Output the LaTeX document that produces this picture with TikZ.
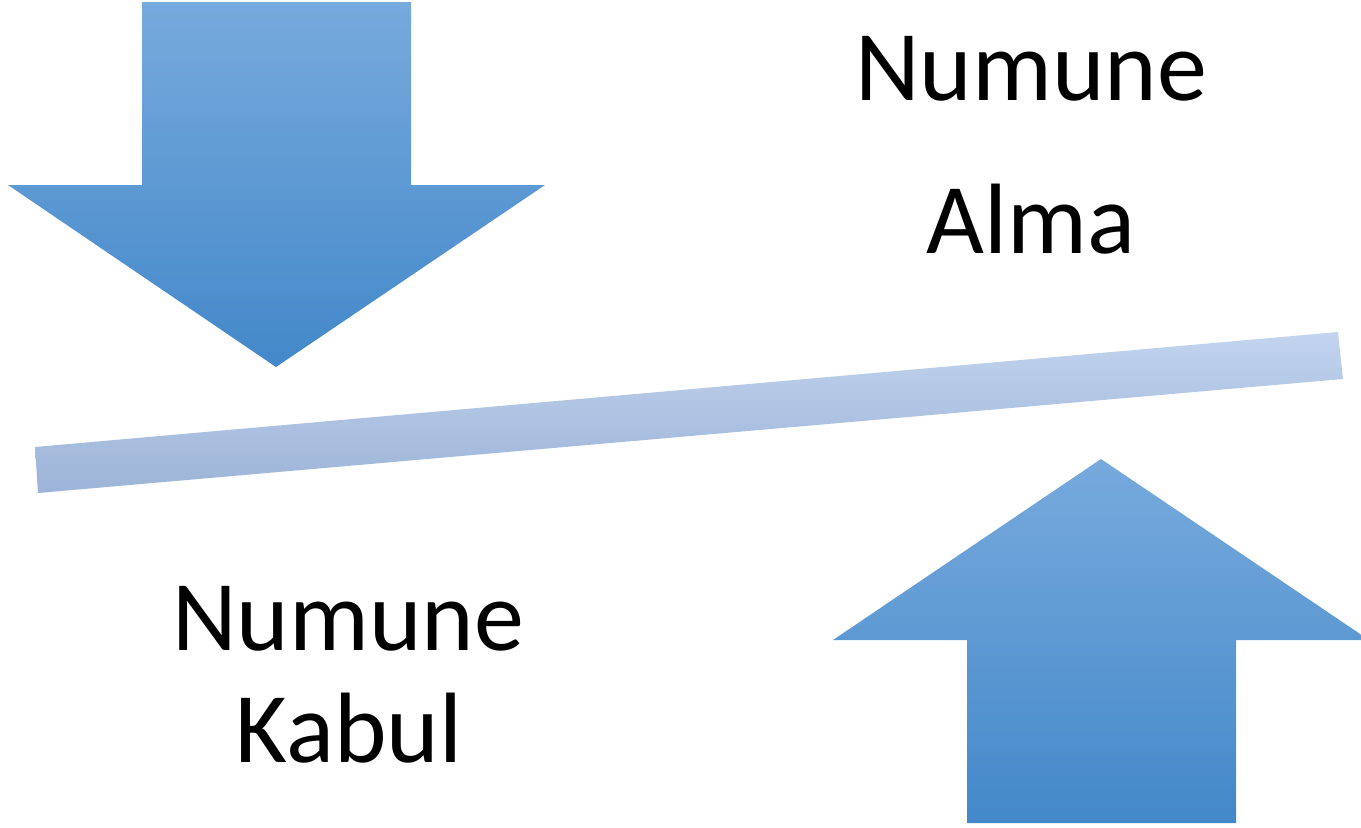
\documentclass[tikz,border=0pt]{standalone}
\usepackage{fontspec}
\setmainfont{Carlito}
\definecolor{arrowtop}{HTML}{77AADD}
\definecolor{arrowmid}{HTML}{5599DA}
\definecolor{arrowbot}{HTML}{4388C9}
\definecolor{bartop}{HTML}{C2D4EE}
\definecolor{barmid}{HTML}{B7CBE9}
\definecolor{barbot}{HTML}{9CB3D7}
\tikzset{
  bigarrow/.style={top color=arrowtop, middle color=arrowmid, bottom color=arrowbot, draw=none},
  scalebar/.style={top color=bartop, middle color=barmid, bottom color=barbot, draw=none},
  label/.style={font=\fontsize{50}{60}\selectfont, text=black, anchor=base, inner sep=0pt}
}
\begin{document}
\begin{tikzpicture}[x=0.5pt, y=-0.5pt]
  \useasboundingbox (0,0) rectangle (1361,827);
  \clip (0,0) rectangle (1361,827);

  % downward arrow, upper left
  \shade[bigarrow] (142,2) -- (411,2) -- (411,185) -- (545,185) -- (276,367)
        -- (8,185) -- (142,185) -- cycle;

  % upward arrow, lower right
  \shade[bigarrow] (1101,459) -- (1369,640) -- (1236,640) -- (1236,823)
        -- (967,823) -- (967,640) -- (833,640) -- cycle;

  % tilted bar
  \shade[scalebar] (35,447) -- (1338,332) -- (1343,379) -- (38,493) -- cycle;

  % labels
  \node[label] (almaA) at (1031,100) {Numune};
  \node[label] (almaB) at (1031,253) {Alma};
  \node[label] (kabulA) at (348,650) {Numune};
  \node[label] (kabulB) at (349,762) {Kabul};
\end{tikzpicture}
\end{document}
